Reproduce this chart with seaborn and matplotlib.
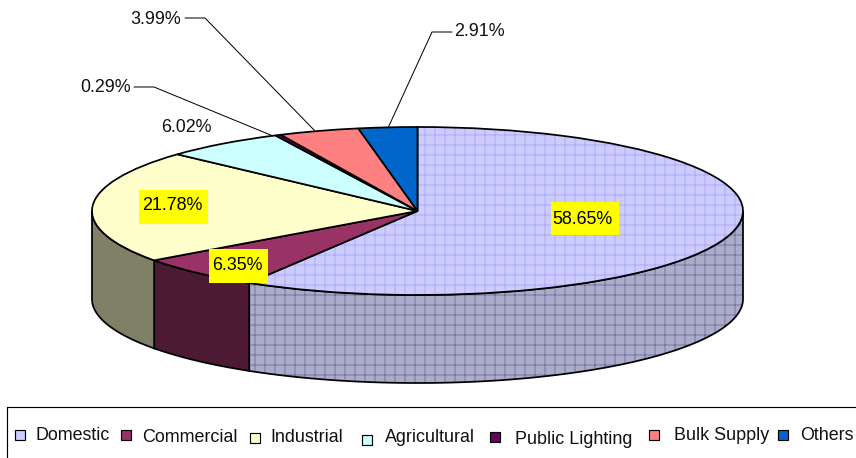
import numpy as np
import seaborn as sns
import matplotlib.pyplot as plt
from matplotlib.colors import to_rgba
from matplotlib.patches import Rectangle

categories = ['Domestic', 'Commercial', 'Industrial', 'Agricultural',
              'Public Lighting', 'Bulk Supply', 'Others']
shares = [58.65, 6.35, 21.78, 6.02, 0.29, 3.99, 2.91]
top_colors = ['#CCCCFF', '#993366', '#FFFFCC', '#CCFFFF', '#660066', '#FF8080', '#0066CC']
side_colors = ['#ABABCB', '#4D1A33', '#808066', '#668080', '#330033', '#804040', '#003366']

sns.set_theme(style='white')
plt.rcParams['font.family'] = ['Liberation Sans', 'DejaVu Sans']
plt.rcParams['hatch.linewidth'] = 0.5

DPI = 120
fig = plt.figure(figsize=(856 / DPI, 458 / DPI), dpi=DPI)

# pie axes: unit ellipse, centre 417.5,211 radii 325.5,84 px
CX, CY, RX, RY = 417.5, 211, 325.5, 84
DEPTH = 88 / RY
ax = fig.add_axes([0, 0, 1, 1])

# walls first, front half only
edges = np.cumsum([0] + shares) * 3.6
for i in range(len(shares)):
    a0, a1 = max(edges[i], 90), min(edges[i + 1], 270)
    if a1 <= a0:
        continue
    a = np.radians(np.linspace(a0, a1, 120))
    x = np.sin(a)
    y = np.cos(a)
    poly = ax.fill(np.r_[x, x[::-1]], np.r_[y, y[::-1] - DEPTH],
                   facecolor=side_colors[i], edgecolor='black', linewidth=1.05, zorder=1)[0]
    if i == 0:
        poly.set_hatch('++')
        poly._hatch_color = to_rgba('#6E6E96')

wedges, _ = ax.pie(shares, colors=sns.color_palette(top_colors), startangle=90, counterclock=False,
                   radius=1, wedgeprops=dict(edgecolor='black', linewidth=1.05, zorder=2))
wedges[0].set_hatch('++')
wedges[0]._hatch_color = to_rgba('#A6A6F8')

ax.set_aspect('auto')
ax.set_xlim(-CX / RX, (856 - CX) / RX)
ax.set_ylim((CY - 458) / RY, CY / RY)
ax.axis('off')

# overlay in pixel coordinates for labels and legend
ov = fig.add_axes([0, 0, 1, 1], zorder=5)
ov.set_xlim(0, 856)
ov.set_ylim(458, 0)
ov.axis('off')

FS = 10.7
# yellow label boxes are taller than the text, so drawn apart from it
ov.add_patch(Rectangle((551, 202), 68, 33, facecolor='#FFFF00', edgecolor='none'))
ov.add_patch(Rectangle((139, 190), 69, 34, facecolor='#FFFF00', edgecolor='none'))
ov.add_patch(Rectangle((209, 249), 59, 34, facecolor='#FFFF00', edgecolor='none'))
ov.text(582, 219, '58.65%', fontsize=FS, ha='center', va='center', color='black')
ov.text(172, 206, '21.78%', fontsize=FS, ha='center', va='center', color='black')
ov.text(237, 265, '6.35%', fontsize=FS, ha='center', va='center', color='black')
ov.text(186, 127, '6.02%', fontsize=FS, ha='center', va='center', color='#111111')
ov.text(156, 19, '3.99%', fontsize=FS, ha='center', va='center', color='#111111')
ov.text(106, 88, '0.29%', fontsize=FS, ha='center', va='center', color='#111111')
ov.text(479, 32, '2.91%', fontsize=FS, ha='center', va='center', color='#111111')

ov.plot([185, 205, 315], [18, 18, 131], color='black', lw=0.6)
ov.plot([134, 154, 273], [87, 87, 136], color='black', lw=0.6)
ov.plot([388, 432, 452], [128, 32, 32], color='black', lw=0.6)

# legend frame, open at right and bottom like the picture
ov.plot([7, 7], [458, 407], color='black', lw=0.7)
ov.plot([7, 856], [407, 407], color='black', lw=0.7)

swatch_x = [15, 121, 250, 362, 490, 649, 778]
swatch_y = [430, 430, 433, 435, 432, 430, 430]
text_x = [36, 142, 270, 385, 515, 674, 800]
text_y = [436, 438, 437, 438, 439, 436, 436]
for name, c, sx, sy, tx, ty in zip(categories, top_colors, swatch_x, swatch_y, text_x, text_y):
    ov.add_patch(Rectangle((sx, sy), 10, 10, facecolor=c, edgecolor='black', linewidth=0.7))
    ov.text(tx, ty, name, fontsize=FS, ha='left', va='center', color='#111111')

fig.savefig('out.png', dpi=DPI, facecolor='white')
